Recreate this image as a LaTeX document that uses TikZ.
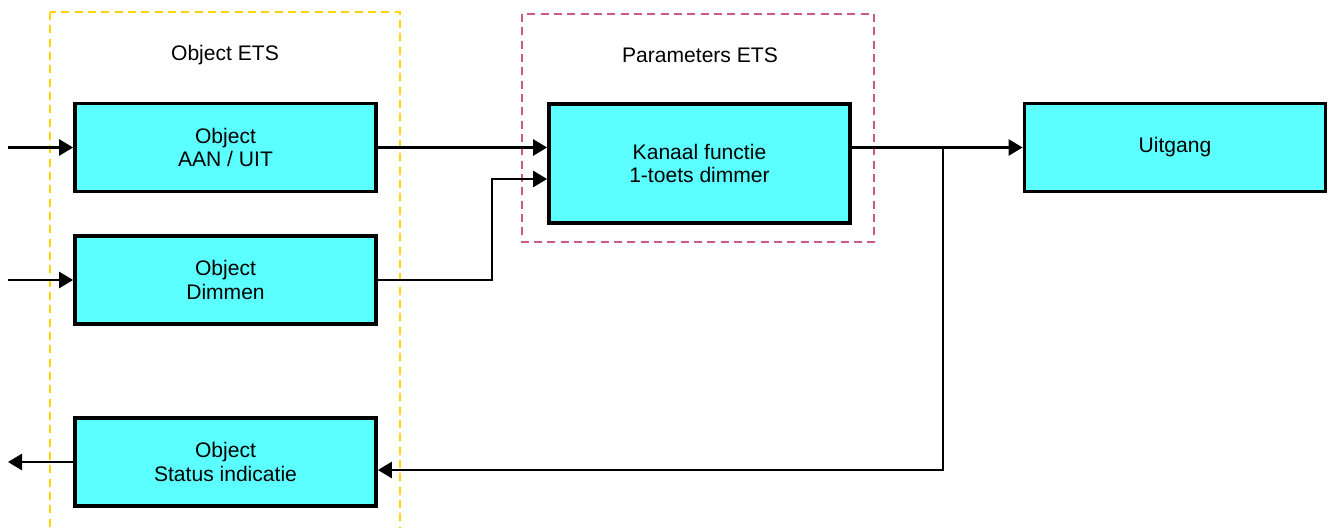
\documentclass[tikz,border=0pt]{standalone}
\usepackage{fontspec}
\setmainfont{Liberation Sans}
\usepackage{tikz}
\usetikzlibrary{arrows.meta}
\definecolor{boxcyan}{HTML}{5CFFFF}
\definecolor{etsyellow}{HTML}{FFD500}
\definecolor{etspink}{HTML}{CC5A88}
\tikzstyle{block}=[rectangle,draw=black,fill=boxcyan,line width=2.6pt,
                   minimum width=226pt,minimum height=66pt,align=center,
                   font=\fontsize{15.8}{17.5}\selectfont]
\tikzstyle{link}=[line width=2pt,-{Triangle[length=10.5pt,width=12pt]}]
\tikzstyle{etsframe}=[line width=2pt,dash pattern=on 6pt off 4pt]

\begin{document}
\begin{tikzpicture}[x=0.75pt,y=-0.75pt,font=\fontsize{15.8}{17.5}\selectfont]
    \useasboundingbox (0,0) rectangle (1329,528);
    \draw[etsframe,draw=etsyellow] (50,12) rectangle (400,545);
    \draw[etsframe,draw=etspink] (522,14) rectangle (874,242);
    \node (tobj) at (225,55) {Object ETS};
    \node (tpar) at (700,55) {Parameters ETS};
    \node (aan) at (225.5,147.5) [block]{Object\\AAN / UIT};
    \node (dim) at (225.5,280) [block]{Object\\Dimmen};
    \node (stat) at (225.5,462) [block]{Object\\Status indicatie};
    \node (kan) at (699.5,163.5) [block,minimum height=89pt]{Kanaal functie\\1-toets dimmer};
    \node (uit) at (1175,147.5) [block]{Uitgang};
    \coordinate (in1) at (8,147.5);
    \coordinate (in2) at (8,280);
    \coordinate (out1) at (8,462);
    \coordinate (bend) at (492,179);
    \coordinate (split) at (943,147.5);
    \coordinate (back) at (943,470);
    \draw[link] (in1) -- (aan.west);
    \draw[link] (in2) -- (dim.west);
    \draw[link] (aan.east) -- (aan.east -| kan.west);
    \draw[link] (dim.east) -| (bend) -- (bend -| kan.west);
    \draw[link] (kan.east |- uit.west) -- (uit.west);
    \draw[link] (split) -- (back) -- (back -| stat.east);
    \draw[link] (stat.west) -- (out1);
  \end{tikzpicture}
\end{document}
